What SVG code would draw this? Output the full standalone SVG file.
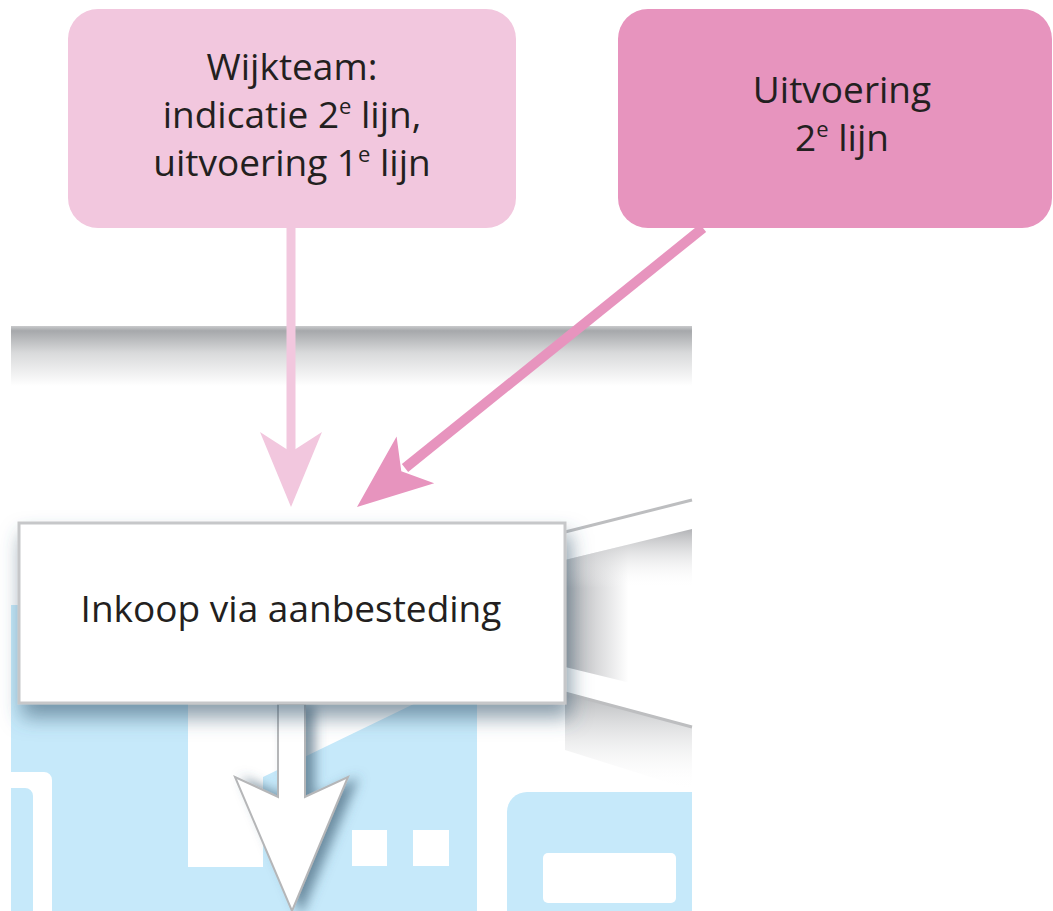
<svg xmlns="http://www.w3.org/2000/svg" width="1053" height="911" viewBox="0 0 1053 911">
<style>
.t{font-family:"Open Sans","Liberation Sans",sans-serif;font-size:37px;fill:#231f20;text-anchor:middle}
.sup{font-size:22px}
.blue{fill:#c6e9fa}
.white{fill:#ffffff}
</style>
<defs>
<linearGradient id="band" x1="0" y1="0" x2="0" y2="1">
<stop offset="0" stop-color="#c9cacc"/>
<stop offset="0.08" stop-color="#a6a8ab"/>
<stop offset="0.45" stop-color="#d9dadb"/>
<stop offset="1" stop-color="#ffffff"/>
</linearGradient>
<linearGradient id="tunH" x1="0" y1="0" x2="1" y2="0">
<stop offset="0" stop-color="#b2b3b6"/>
<stop offset="0.5" stop-color="#ffffff"/>
</linearGradient>
<linearGradient id="tunV" x1="0" y1="0" x2="0" y2="1">
<stop offset="0" stop-color="#b2b3b6" stop-opacity="1"/>
<stop offset="0.35" stop-color="#ffffff" stop-opacity="0"/>
</linearGradient>
<linearGradient id="under" x1="0" y1="0" x2="0" y2="1">
<stop offset="0" stop-color="#aeb0b3" stop-opacity="0.9"/>
<stop offset="1" stop-color="#ffffff" stop-opacity="0"/>
</linearGradient>
<filter id="shadow" x="-20%" y="-20%" width="140%" height="160%">
<feGaussianBlur in="SourceAlpha" stdDeviation="10"/>
<feOffset dx="4" dy="13" result="b"/>
<feFlood flood-color="#3d5c72" flood-opacity="0.6"/>
<feComposite in2="b" operator="in"/>
<feMerge><feMergeNode/><feMergeNode in="SourceGraphic"/></feMerge>
</filter>
<filter id="ashadow" x="-40%" y="-20%" width="180%" height="140%">
<feGaussianBlur in="SourceAlpha" stdDeviation="6"/>
<feOffset dx="9" dy="2" result="b"/>
<feFlood flood-color="#3d5c72" flood-opacity="0.65"/>
<feComposite in2="b" operator="in"/>
<feMerge><feMergeNode/><feMergeNode in="SourceGraphic"/></feMerge>
</filter>
</defs>
<rect width="1053" height="911" fill="#ffffff"/>

<g id="scene">
<rect x="11" y="326" width="681" height="60" fill="url(#band)"/>
<rect class="blue" x="11" y="605" width="466" height="306"/>
<path class="white" d="M11,772 H44 A8,8 0 0 1 52,780 V911 H33 V796 A8,8 0 0 0 25,788 H11 Z"/>
<polygon class="white" points="188,700 422,700 263,777 263,867 188,867"/>
<rect class="white" x="352" y="830" width="35" height="36"/>
<rect class="white" x="413" y="830" width="36" height="36"/>
<rect class="white" x="477" y="700" width="215" height="211"/>
<path class="blue" d="M507,812 A20,20 0 0 1 527,792 H692 V911 H507 Z"/>
<rect class="white" x="543" y="853" width="133" height="50" rx="5"/>
<polygon points="565,693 692,727 692,790 565,750" fill="url(#under)"/>
<polygon class="white" points="565,532 692,500 692,727 565,693"/>
<line x1="565" y1="532" x2="692" y2="500" stroke="#bdbec0" stroke-width="3"/>
<line x1="565" y1="693" x2="692" y2="727" stroke="#bdbec0" stroke-width="3"/>
<polygon points="565,560 692,529 692,698 565,667" fill="url(#tunH)"/>
<polygon points="565,560 692,529 692,698 565,667" fill="url(#tunV)"/>
</g>

<g id="connectors">
<polygon points="278,704 305,704 305,797 348,777 292,911 235,777 278,797" fill="#ffffff" stroke="#b5b6b8" stroke-width="2" filter="url(#ashadow)"/>
<line x1="291" y1="228" x2="291" y2="455" stroke="#f2c7de" stroke-width="9"/>
<polygon points="260,432 291,507 322,432 291,452" fill="#f2c7de"/>
<line x1="703" y1="228" x2="405" y2="468" stroke="#e794be" stroke-width="10"/>
<polygon points="357,507 396.6,436.6 401.3,471.2 434.2,483.2" fill="#e794be"/>
</g>

<g id="inkoop">
<rect x="19" y="523" width="546" height="180" fill="#ffffff" stroke="#c6c7c9" stroke-width="3" filter="url(#shadow)"/>
<text class="t" x="291" y="622">Inkoop via aanbesteding</text>
</g>

<g id="wijkteam">
<rect x="68" y="9" width="448" height="219" rx="30" fill="#f2c7de"/>
<text class="t" x="292" y="80">Wijkteam:</text>
<text class="t" x="292" y="128">indicatie 2<tspan class="sup" dy="-14">e</tspan><tspan dy="14"> lijn,</tspan></text>
<text class="t" x="292" y="176">uitvoering 1<tspan class="sup" dy="-14">e</tspan><tspan dy="14"> lijn</tspan></text>
</g>

<g id="uitvoering">
<rect x="618" y="9" width="434" height="219" rx="30" fill="#e794be"/>
<text class="t" x="842" y="103">Uitvoering</text>
<text class="t" x="842" y="151">2<tspan class="sup" dy="-14">e</tspan><tspan dy="14"> lijn</tspan></text>
</g>
</svg>
